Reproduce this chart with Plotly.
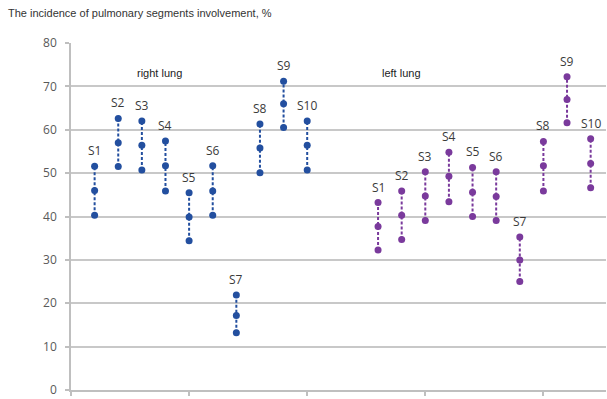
import plotly.graph_objects as go

segments = ["S1", "S2", "S3", "S4", "S5", "S6", "S7", "S8", "S9", "S10"]

right_low = [40.3, 51.5, 50.7, 45.9, 34.4, 40.3, 13.2, 50.1, 60.5, 50.7]
right_mid = [46.0, 57.0, 56.4, 51.7, 39.9, 45.9, 17.2, 55.8, 66.0, 56.4]
right_high = [51.6, 62.6, 62.0, 57.4, 45.5, 51.7, 21.9, 61.3, 71.2, 62.0]

left_low = [32.3, 34.7, 39.1, 43.4, 40.0, 39.1, 25.0, 45.9, 61.6, 46.6]
left_mid = [37.7, 40.3, 44.7, 49.3, 45.6, 44.6, 30.0, 51.7, 67.0, 52.2]
left_high = [43.2, 45.9, 50.3, 54.8, 51.3, 50.3, 35.3, 57.3, 72.2, 57.9]

right_x = list(range(1, 11))
left_x = list(range(13, 23))

y_ticks = [0, 10, 20, 30, 40, 50, 60, 70, 80]

BLUE = "#234f9f"
PURPLE = "#7a3a9c"


def build(xs, lo, mi, hi):
    X, Y = [], []
    for x, a, b, c in zip(xs, lo, mi, hi):
        X += [x, x, x, None]
        Y += [a, b, c, None]
    return X, Y


fig = go.Figure()
for xs, lo, mi, hi, col in [(right_x, right_low, right_mid, right_high, BLUE),
                            (left_x, left_low, left_mid, left_high, PURPLE)]:
    X, Y = build(xs, lo, mi, hi)
    fig.add_trace(go.Scatter(
        x=X, y=Y, mode="lines+markers",
        line=dict(color=col, width=2, dash="3px,2px"),
        marker=dict(color=col, size=7),
        showlegend=False, hoverinfo="skip",
    ))

annotations = []
for xs, hi in [(right_x, right_high), (left_x, left_high)]:
    for x, h, s in zip(xs, hi, segments):
        annotations.append(dict(
            x=x, y=h, text=s, showarrow=False, yanchor="bottom", yshift=5,
            font=dict(family="Open Sans, Liberation Sans, sans-serif", size=12, color="#3a3a3a"),
        ))

annotations.append(dict(x=3.75, y=73.1, text="right lung", showarrow=False,
                        font=dict(family="Liberation Sans, Arial", size=11, color="#222222")))
annotations.append(dict(x=14.0, y=73.1, text="left lung", showarrow=False,
                        font=dict(family="Liberation Sans, Arial", size=11, color="#222222")))

fig.update_layout(
    width=607, height=399,
    margin=dict(l=71, r=1, t=43, b=9),
    paper_bgcolor="white", plot_bgcolor="white",
    title=dict(text="The incidence of pulmonary segments involvement, %",
               xref="container", yref="container", x=8 / 607, xanchor="left",
               y=1 - 13 / 399, yanchor="middle",
               font=dict(family="Liberation Sans, Arial", size=11, color="#333333")),
    annotations=annotations,
    xaxis=dict(range=[0, 22.65], tickvals=[0, 5, 10, 15, 20], showticklabels=False,
               ticks="outside", ticklen=4, tickcolor="#bfbfbf", tickwidth=1.5,
               showgrid=False, zeroline=False, showline=True, linecolor="#bfbfbf", linewidth=1.5),
    yaxis=dict(range=[0, 80], tickvals=y_ticks, ticks="outside", ticklen=4,
               tickcolor="#bfbfbf", tickwidth=1.5, ticklabelstandoff=6,
               showgrid=True, gridcolor="#c8c8c8", gridwidth=1.5,
               zeroline=False, showline=True, linecolor="#bfbfbf", linewidth=1.5,
               tickfont=dict(family="Open Sans, Liberation Sans, sans-serif", size=12, color="#595959")),
)

fig.write_html("out.html", config={"displayModeBar": False},
               post_script="document.body.style.margin='0';document.body.style.overflow='hidden';")
